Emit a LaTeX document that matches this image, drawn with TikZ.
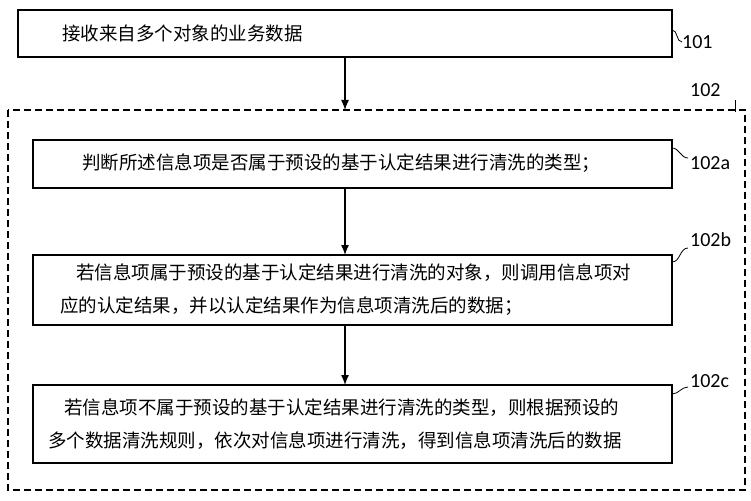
\documentclass[tikz,border=0pt]{standalone}
\usepackage{fontspec}
\usetikzlibrary{arrows.meta}
\setmainfont{Carlito}
\newfontfamily\cjk{Noto Sans CJK SC}
\begin{document}
\begin{tikzpicture}[x=1pt,y=-1pt,
  box/.style={draw,line width=1.3pt},
  txt/.style={font=\cjk\fontsize{18.5}{33}\selectfont,anchor=west,align=left,inner sep=0},
  lab/.style={font=\fontsize{20}{22}\selectfont,anchor=west,inner sep=0},
  arr/.style={-{Latex[length=10pt,width=8pt]},line width=1.3pt}]
\useasboundingbox (0,0) rectangle (751,500);
\draw[box] (18,10) rectangle (672,57); \coordinate (a1) at (345,57);
\node[txt] at (62,33) {接收来自多个对象的业务数据};
\node[lab] (l101) at (682,42) {101};
\draw[box,dash pattern=on 7pt off 4pt,line width=1.1pt] (8,110) rectangle (745,490); \coordinate (dt) at (345,110);
\node[lab] (l102) at (690,90) {102};
\draw[box] (33,140) rectangle (672,188);
\node[txt] at (82,163) {判断所述信息项是否属于预设的基于认定结果进行清洗的类型；};
\node[lab] (la) at (690,163) {102a};
\draw[box] (33,255) rectangle (672,325);
\node[txt] at (60,290) {\hspace*{16pt}若信息项属于预设的基于认定结果进行清洗的对象，则调用信息项对\\应的认定结果，并以认定结果作为信息项清洗后的数据；};
\node[lab] (lb) at (690,240) {102b};
\draw[box] (33,385) rectangle (672,463);
\node[txt] at (48,424) {\hspace*{16pt}若信息项不属于预设的基于认定结果进行清洗的类型，则根据预设的\\多个数据清洗规则，依次对信息项进行清洗，得到信息项清洗后的数据};
\node[lab] (lc) at (690,381) {102c};
\draw[arr] (a1) -- (dt);
\draw[arr] (345,188) -- (345,255);
\draw[arr] (345,325) -- (345,385);
\draw[line width=0.8pt] (672,30) to[out=0,in=180] (682,42);
\draw[line width=0.8pt] (735,112) to[out=90,in=-90] (735,100);
\draw[line width=0.8pt] (672,148) to[out=0,in=180] (688,158);
\draw[line width=0.8pt] (672,262) to[out=0,in=180] (688,248);
\draw[line width=0.8pt] (672,394) to[out=0,in=180] (688,387);
\end{tikzpicture}
\end{document}
